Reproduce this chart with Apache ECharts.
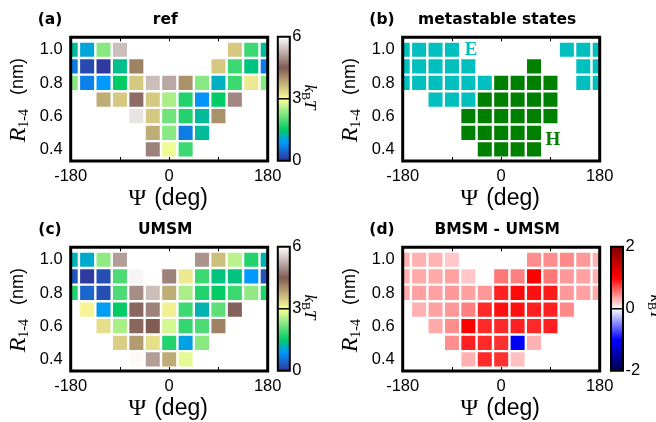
<!DOCTYPE html>
<html><head><meta charset="utf-8">
<script src="https://cdn.jsdelivr.net/npm/echarts@6/dist/echarts.min.js"></script>
<style>html,body{margin:0;padding:0;background:#fff}#c{width:656px;height:422px}</style>
</head><body><div id="c"></div>
<script>
// ---------------- data ----------------
const _ = null;
const psi = [-180,-150,-120,-90,-60,-30,0,30,60,90,120,150,180];
const rr = [1.0,0.9,0.8,0.7,0.6,0.5,0.4];
const xTickLabels = [-180, 0, 180];
const xMinorTicks = [-90, 0, 90];
const yTickLabels = [0.4, 0.6, 0.8, 1.0];
const panelTags = ['(a)','(b)','(c)','(d)'];
const panelTitles = ['ref','metastable states','UMSM','BMSM - UMSM'];
const stateNames = ['E','H'];

// (a) reference free energy, kBT (rows: R = 1.0 ... 0.4, cols: psi)
const refFE = [
 [1.3, 1.05, 2.3, 5.4, _, _, _, _, _, _, 3.5, 1.85, 1.3],
 [0.65, 0.2, 0.05, 1.35, 4.15, _, _, _, _, 3.5, 1.85, 1.4, 0.65],
 [2.3, 0.7, 0.9, 1.5, 3.5, 5.4, 5.2, 4.0, 2.3, 1.15, 1.85, 3.2, 2.3],
 [_, _, 3.75, 3.5, 4.65, 3.5, 2.5, 1.7, 0.85, 1.5, 4.9, _, _],
 [_, _, _, _, 5.75, 3.5, 2.15, 1.7, 1.3, 4.0, _, _, _],
 [_, _, _, _, _, 3.75, 2.3, 0.65, 1.3, _, _, _, _],
 [_, _, _, _, _, 4.85, 2.9, 1.85, _, _, _, _, _]
];
// (b) metastable state assignment
const states = [
 ['E','E','E','E',_,_,_,_,_,_,'E','E','E'],
 ['E','E','E','E','E',_,_,_,'H',_,_,'E','E'],
 ['E','E','E','E','E','E','H','H','H','H',_,'E','E'],
 [_,_,'E','E','E','H','H','H','H','H',_,_,_],
 [_,_,_,_,'H','H','H','H','H','H',_,_,_],
 [_,_,_,_,'H','H','H','H','H',_,_,_,_],
 [_,_,_,_,_,'H','H','H','H',_,_,_,_]
];
// (c) UMSM free energy, kBT
const umsmFE = [
 [1.2, 1.1, 2.35, 5.1, _, _, _, _, 5.0, 3.6, 2.6, 1.7, 1.2],
 [0.3, 0.05, 0.25, 1.95, 5.9, _, 4.85, 3.2, 1.85, 1.4, 1.4, 0.9, 0.3],
 [1.7, 0.45, 0.25, 1.95, 4.95, 5.4, 3.75, 2.5, 1.7, 1.5, 1.85, 2.35, 1.7],
 [_, 3.1, 0.95, 1.5, 4.6, 4.85, 3.15, 1.85, 1.2, 2.05, 4.55, _, _],
 [_, _, 3.3, 2.5, 4.6, 4.5, 2.75, 1.8, 1.95, 4.15, _, _, _],
 [_, _, _, 3.45, 3.9, 3.3, 1.7, 1.0, 2.3, _, _, _, _],
 [_, _, _, _, 5.95, 5.1, 3.75, 2.85, _, _, _, _, _]
];
// (d) BMSM - UMSM, kBT
const diffFE = [
 [0.31, 0.31, 0.3, 0.22, _, _, _, _, 0.44, 0.44, 0.47, 0.4, 0.31],
 [0.31, 0.34, 0.34, 0.37, 0.22, _, 0.53, 0.5, 1.0, 0.53, 0.4, 0.37, 0.31],
 [0.34, 0.37, 0.37, 0.4, 0.37, 0.4, 0.87, 0.97, 0.94, 0.9, 0.4, 0.37, 0.34],
 [_, 0.31, 0.37, 0.4, 0.5, 0.84, 0.94, 0.94, 0.87, 0.87, 0.47, _, _],
 [_, _, 0.34, 0.44, 1.0, 0.84, 0.84, 0.87, 0.84, 0.87, _, _, _],
 [_, _, _, 0.44, 0.87, 0.84, 0.81, -1.0, 0.31, _, _, _, _],
 [_, _, _, _, 0.31, 0.84, 0.81, 0.25, _, _, _, _, _]
];
const feRange = [0, 6], feTicks = [0, 3, 6];
const diffRange = [-2, 2], diffTicks = [-2, 0, 2];

// ---------------- styles ----------------
const terrainStops = [[0,[0.2,0.2,0.6]],[0.15,[0,0.6,1]],[0.25,[0,0.8,0.4]],[0.5,[1,1,0.6]],[0.75,[0.5,0.36,0.33]],[1,[1,1,1]]];
const seismicStops = [[0,[0,0,0.3]],[0.25,[0,0,1]],[0.5,[1,1,1]],[0.75,[1,0,0]],[1,[0.5,0,0]]];
const stateColors = {E:'#00bfbf', H:'#008000'};
function rgb(c){return 'rgb('+c.map(v=>Math.round(v*255)).join(',')+')';}
function cmap(stops,t){
  for(let i=1;i<stops.length;i++){
    if(t<=stops[i][0]+1e-9){const a=stops[i-1],b=stops[i];const f=(t-a[0])/(b[0]-a[0]);
      return rgb([0,1,2].map(k=>a[1][k]+(b[1][k]-a[1][k])*f));}
  }
  return rgb(stops[stops.length-1][1]);
}
function samples(stops,n){const o=[];for(let i=0;i<=n;i++)o.push(cmap(stops,i/n));return o;}

const SANS='Liberation Sans', SERIF='Liberation Serif', BOLD='DejaVu Sans';
const GW=197, GH=123.7;
const grids=[{left:70.7,top:37.3},{left:402.7,top:37.3},{left:70.7,top:247.3},{left:402.7,top:247.3}];
const dPsi = psi[1]-psi[0], dR = rr[0]-rr[1];

function toData(mat){const d=[];mat.forEach((row,i)=>row.forEach((v,j)=>{if(v!==null)d.push([psi[j],rr[i],v]);}));return d;}
function toStateData(mat,s){const d=[];mat.forEach((row,i)=>row.forEach((v,j)=>{if(v===s)d.push([psi[j],rr[i],1]);}));return d;}

function renderCell(params, api){
  const x=api.value(0), y=api.value(1);
  const a=api.coord([x-dPsi/2, y+dR/2]), b=api.coord([x+dPsi/2, y-dR/2]);
  const g=1.2, cs=params.coordSys;
  const shape=echarts.graphic.clipRectByRect(
    {x:a[0]+g,y:a[1]+g,width:b[0]-a[0]-2*g,height:b[1]-a[1]-2*g},
    {x:cs.x,y:cs.y,width:cs.width,height:cs.height});
  if(!shape) return null;
  return {type:'rect',shape:shape,style:{fill:api.visual('color')}};
}

const xAxes=[], yAxes=[];
grids.forEach((g,k)=>{
  xAxes.push({gridIndex:k,type:'value',min:-180,max:180,position:'bottom',
    axisLine:{show:false},splitLine:{show:false},
    axisTick:{show:true,inside:true,length:4,customValues:xMinorTicks,lineStyle:{color:'#000',width:1}},
    axisLabel:{customValues:xTickLabels,margin:7,fontSize:16.5,color:'#000',fontFamily:SANS}});
  xAxes.push({gridIndex:k,type:'value',min:-180,max:180,position:'top',
    axisLine:{show:false},splitLine:{show:false},
    axisTick:{show:true,inside:true,length:4,customValues:xMinorTicks,lineStyle:{color:'#000',width:1}},
    axisLabel:{show:false}});
  yAxes.push({gridIndex:k,type:'value',min:0.33,max:1.075,
    axisLine:{show:false},splitLine:{show:false},axisTick:{show:false},
    axisLabel:{customValues:yTickLabels,formatter:v=>v.toFixed(1),margin:8,fontSize:16.5,color:'#000',fontFamily:SANS}});
});

function cellSeries(k,data,color){
  const s={type:'custom',xAxisIndex:2*k,yAxisIndex:k,renderItem:renderCell,data:data,
    encode:{x:0,y:1},clip:true,silent:true,animation:false};
  if(color) s.itemStyle={color:color};
  return s;
}
const series=[
  cellSeries(0,toData(refFE)),
  cellSeries(2,toData(umsmFE)),
  cellSeries(3,toData(diffFE)),
  cellSeries(1,toStateData(states,'E'),stateColors.E),
  cellSeries(1,toStateData(states,'H'),stateColors.H)
];

// ---------------- graphics (texts, colorbars) ----------------
const graphic=[];
function txt(x,y,text,style,rot){
  graphic.push({type:'text',x:x,y:y,rotation:rot||0,silent:true,z:20,
    style:Object.assign({text:text,align:'center',verticalAlign:'middle',fill:'#000'},style)});
}
grids.forEach((g,k)=>{
  const cx=g.left+GW/2, cy=g.top+GH/2;
  txt(g.left-20.7, g.top-17.8, panelTags[k], {font:'bold 15.5px "'+BOLD+'"'});
  txt(cx-4, g.top-17.8, panelTitles[k], {font:'bold 15.5px "'+BOLD+'"'});
  // x label
  txt(cx-1, g.top+GH+38, '{p|\u03A8}{g| }{d|(deg)}', {rich:{
    p:{fontFamily:SERIF,fontSize:24,fill:'#000'},
    g:{fontFamily:SANS,fontSize:23,width:8},
    d:{fontFamily:SANS,fontSize:23,fill:'#000'}}});
  // y label
  txt(g.left-52.2, cy+1, '{r|R}{s|1-4}{g| }{n|(nm)}', {rich:{
    r:{fontFamily:SERIF,fontStyle:'italic',fontSize:24,lineHeight:26,fill:'#000'},
    s:{fontFamily:SERIF,fontSize:14,lineHeight:14,verticalAlign:'bottom',fill:'#000'},
    g:{fontFamily:SANS,fontSize:18,width:14},
    n:{fontFamily:SANS,fontSize:18,lineHeight:26,fill:'#000'}}}, Math.PI/2);
});

function colorbar(x,y,w,h,stops,ticks,lblX,lblY){
  const grad=new echarts.graphic.LinearGradient(0,1,0,0,stops.map(s=>({offset:s[0],color:rgb(s[1])})));
  graphic.push({type:'rect',shape:{x:x,y:y,width:w,height:h},style:{fill:grad},silent:true,z:15});
  graphic.push({type:'rect',shape:{x:x,y:y,width:w,height:h},style:{fill:null,stroke:'#000',lineWidth:2},silent:true,z:16});
  const ym=y+h/2;
  graphic.push({type:'line',shape:{x1:x,y1:ym,x2:x+w,y2:ym},style:{stroke:'#000',lineWidth:1.5},silent:true,z:16});
  [ticks[2],ticks[1],ticks[0]].forEach((t,i)=>{
    graphic.push({type:'text',x:x+w+2.5,y:y+i*h/2,silent:true,z:20,
      style:{text:String(t),align:'left',verticalAlign:'middle',font:'16.5px "'+SANS+'"',fill:'#000'}});
  });
  txt(lblX,lblY,'{k|k}{b|B}{t|T}',{rich:{
    k:{fontFamily:SERIF,fontStyle:'italic',fontSize:17,lineHeight:20,fill:'#000'},
    b:{fontFamily:SERIF,fontSize:12,lineHeight:12,verticalAlign:'bottom',fill:'#000'},
    t:{fontFamily:SERIF,fontStyle:'italic',fontSize:17,lineHeight:20,fill:'#000'}}}, -Math.PI/2);
}
colorbar(277.8,36.8,12,124,terrainStops,feTicks,309.5,97);
colorbar(277.8,246.8,12,124,terrainStops,feTicks,309.5,307);
colorbar(611,246.8,12,124,seismicStops,diffTicks,655,307);

// state labels in (b)
txt(471,50,'E',{font:'bold 19px "'+SERIF+'"',fill:stateColors.E});
txt(553,140,'H',{font:'bold 19px "'+SERIF+'"',fill:stateColors.H});

const option={
  backgroundColor:'#fff',
  animation:false,
  grid:grids.map(g=>({left:g.left,top:g.top,width:GW,height:GH,show:true,borderColor:'#000',borderWidth:3,backgroundColor:'transparent',z:10})),
  xAxis:xAxes, yAxis:yAxes,
  visualMap:[
    {type:'continuous',show:false,min:feRange[0],max:feRange[1],dimension:2,seriesIndex:[0,1],inRange:{color:samples(terrainStops,40)}},
    {type:'continuous',show:false,min:diffRange[0],max:diffRange[1],dimension:2,seriesIndex:[2],inRange:{color:samples(seismicStops,40)}}
  ],
  series:series,
  graphic:graphic
};
const chart=echarts.init(document.getElementById('c'),null,{renderer:'canvas'});
chart.setOption(option);
</script></body></html>
